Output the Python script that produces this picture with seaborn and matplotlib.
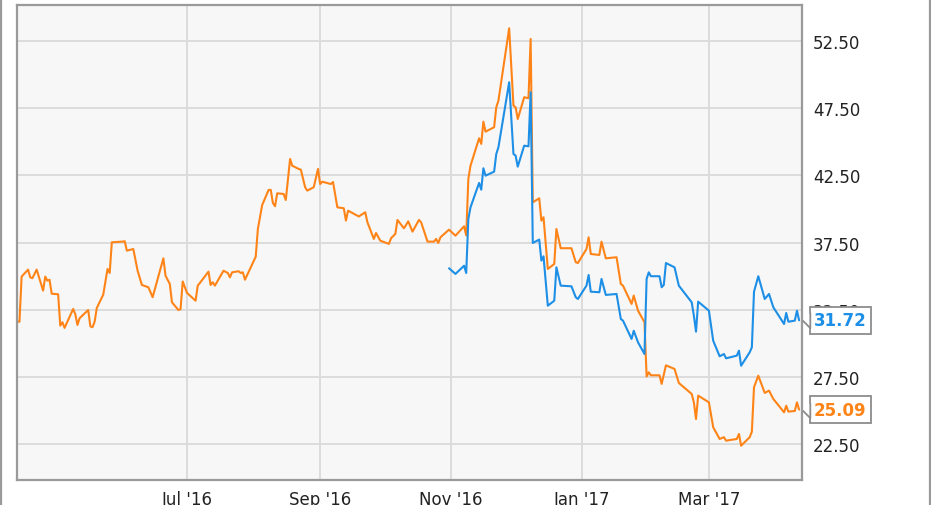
import matplotlib
matplotlib.use('Agg')
import matplotlib.pyplot as plt
import matplotlib.dates as mdates
import matplotlib.transforms as mtransforms
from matplotlib.lines import Line2D
import pandas as pd
import seaborn as sns

# ---------------- data ----------------
orange_dates = [
    '2016-04-13', '2016-04-14', '2016-04-15', '2016-04-18', '2016-04-19', '2016-04-20',
    '2016-04-22', '2016-04-25', '2016-04-26', '2016-04-27', '2016-04-28', '2016-04-29',
    '2016-05-02', '2016-05-03', '2016-05-04', '2016-05-05', '2016-05-09', '2016-05-10',
    '2016-05-11', '2016-05-12', '2016-05-16', '2016-05-17', '2016-05-18', '2016-05-19',
    '2016-05-20', '2016-05-23', '2016-05-25', '2016-05-26', '2016-05-27', '2016-06-01',
    '2016-06-02', '2016-06-03', '2016-06-06', '2016-06-08', '2016-06-10', '2016-06-13',
    '2016-06-15', '2016-06-20', '2016-06-21', '2016-06-23', '2016-06-24', '2016-06-27',
    '2016-06-28', '2016-06-29', '2016-07-01', '2016-07-05', '2016-07-06', '2016-07-07',
    '2016-07-11', '2016-07-12', '2016-07-13', '2016-07-14', '2016-07-18', '2016-07-20',
    '2016-07-21', '2016-07-22', '2016-07-25', '2016-07-26', '2016-07-27', '2016-07-28',
    '2016-08-02', '2016-08-03', '2016-08-05', '2016-08-08', '2016-08-09', '2016-08-10',
    '2016-08-11', '2016-08-12', '2016-08-15', '2016-08-16', '2016-08-18', '2016-08-19',
    '2016-08-22', '2016-08-23', '2016-08-25', '2016-08-26', '2016-08-29', '2016-08-31',
    '2016-09-01', '2016-09-02', '2016-09-06', '2016-09-07', '2016-09-09', '2016-09-12',
    '2016-09-13', '2016-09-14', '2016-09-19', '2016-09-22', '2016-09-23', '2016-09-26',
    '2016-09-27', '2016-09-29', '2016-10-03', '2016-10-04', '2016-10-06', '2016-10-07',
    '2016-10-10', '2016-10-11', '2016-10-12', '2016-10-14', '2016-10-17', '2016-10-18',
    '2016-10-21', '2016-10-24', '2016-10-25', '2016-10-26', '2016-10-27', '2016-10-31',
    '2016-11-03', '2016-11-07', '2016-11-08', '2016-11-09', '2016-11-10', '2016-11-14',
    '2016-11-15', '2016-11-16', '2016-11-17', '2016-11-21', '2016-11-22', '2016-11-23',
    '2016-11-28', '2016-11-30', '2016-12-01', '2016-12-02', '2016-12-05', '2016-12-07',
    '2016-12-08', '2016-12-09', '2016-12-12', '2016-12-13', '2016-12-14', '2016-12-16',
    '2016-12-19', '2016-12-20', '2016-12-22', '2016-12-27', '2016-12-29', '2016-12-30',
    '2017-01-03', '2017-01-04', '2017-01-05', '2017-01-09', '2017-01-10', '2017-01-12',
    '2017-01-17', '2017-01-19', '2017-01-20', '2017-01-24', '2017-01-25', '2017-01-27',
    '2017-01-30', '2017-01-31', '2017-02-01', '2017-02-02', '2017-02-06', '2017-02-07',
    '2017-02-09', '2017-02-13', '2017-02-15', '2017-02-21', '2017-02-22', '2017-02-23',
    '2017-02-24', '2017-03-01', '2017-03-03', '2017-03-06', '2017-03-08', '2017-03-09',
    '2017-03-14', '2017-03-15', '2017-03-16', '2017-03-20', '2017-03-21', '2017-03-22',
    '2017-03-24', '2017-03-27', '2017-03-29', '2017-03-31', '2017-04-05', '2017-04-06',
    '2017-04-07', '2017-04-10', '2017-04-11', '2017-04-12',
]
orange_values = [
    31.62, 31.62, 34.97, 35.49, 34.92, 34.85,
    35.49, 33.93, 34.97, 34.67, 34.74, 33.70,
    33.66, 31.33, 31.58, 31.16, 32.57, 32.17,
    31.38, 31.88, 32.49, 31.28, 31.21, 31.62,
    32.64, 33.63, 35.54, 35.24, 37.52, 37.57,
    37.60, 36.90, 37.02, 35.41, 34.35, 34.18,
    33.44, 36.33, 35.04, 34.42, 33.06, 32.49,
    32.55, 34.61, 33.76, 33.18, 34.30, 34.50,
    35.34, 34.35, 34.55, 34.30, 35.41, 35.24,
    34.92, 35.29, 35.37, 35.24, 35.29, 34.74,
    36.45, 38.51, 40.29, 41.41, 41.41, 40.44,
    40.20, 41.16, 41.11, 40.66, 43.71, 43.21,
    42.97, 42.92, 41.61, 41.36, 41.61, 42.97,
    41.85, 42.02, 41.85, 42.00, 40.12, 40.05,
    39.13, 39.87, 39.44, 39.75, 39.01, 37.77,
    38.21, 37.64, 37.40, 37.82, 38.14, 39.18,
    38.56, 38.81, 39.08, 38.31, 39.18, 39.01,
    37.57, 37.57, 37.77, 37.47, 37.89, 38.46,
    38.01, 38.71, 38.03, 42.23, 43.21, 45.25,
    44.83, 46.48, 45.74, 46.07, 47.55, 48.04,
    53.42, 47.67, 47.55, 46.68, 48.30, 48.22,
    52.63, 40.49, 40.79, 39.13, 39.38, 35.54,
    35.91, 38.51, 37.08, 37.08, 36.04, 35.98,
    37.02, 37.89, 36.65, 36.58, 37.57, 36.33,
    36.41, 34.42, 34.30, 32.94, 33.56, 32.44,
    31.58, 27.55, 27.86, 27.64, 27.64, 27.00,
    28.38, 28.11, 27.07, 26.25, 25.63, 24.39,
    26.13, 25.63, 23.78, 22.91, 23.04, 22.78,
    22.91, 23.28, 22.41, 23.04, 23.45, 26.75,
    27.61, 26.33, 26.50, 25.88, 24.89, 25.38,
    24.94, 24.99, 25.63, 25.09,
]

blue_dates = [
    '2016-10-31', '2016-11-03', '2016-11-07', '2016-11-08', '2016-11-09', '2016-11-10',
    '2016-11-14', '2016-11-15', '2016-11-16', '2016-11-17', '2016-11-21', '2016-11-22',
    '2016-11-23', '2016-11-28', '2016-11-30', '2016-12-01', '2016-12-02', '2016-12-05',
    '2016-12-07', '2016-12-08', '2016-12-09', '2016-12-12', '2016-12-13', '2016-12-14',
    '2016-12-16', '2016-12-19', '2016-12-20', '2016-12-22', '2016-12-27', '2016-12-29',
    '2016-12-30', '2017-01-03', '2017-01-04', '2017-01-05', '2017-01-09', '2017-01-10',
    '2017-01-12', '2017-01-17', '2017-01-19', '2017-01-20', '2017-01-24', '2017-01-25',
    '2017-01-27', '2017-01-30', '2017-01-31', '2017-02-01', '2017-02-02', '2017-02-06',
    '2017-02-07', '2017-02-08', '2017-02-09', '2017-02-13', '2017-02-15', '2017-02-21',
    '2017-02-22', '2017-02-23', '2017-02-24', '2017-03-01', '2017-03-03', '2017-03-06',
    '2017-03-08', '2017-03-09', '2017-03-14', '2017-03-15', '2017-03-16', '2017-03-20',
    '2017-03-21', '2017-03-22', '2017-03-24', '2017-03-27', '2017-03-29', '2017-03-31',
    '2017-04-05', '2017-04-06', '2017-04-07', '2017-04-10', '2017-04-11', '2017-04-12',
]
blue_values = [
    35.59, 35.17, 35.78, 35.24, 39.25, 40.12,
    41.93, 41.43, 43.02, 42.47, 42.77, 44.08,
    44.58, 49.41, 44.08, 43.96, 43.14, 44.70,
    44.65, 48.67, 37.47, 37.72, 36.16, 36.48,
    32.81, 33.18, 35.66, 34.30, 34.25, 33.44,
    33.31, 34.30, 35.09, 33.85, 33.81, 34.80,
    33.61, 33.68, 31.82, 31.70, 30.34, 30.95,
    30.09, 29.22, 34.80, 35.29, 35.00, 35.00,
    34.18, 34.35, 35.98, 35.66, 34.30, 33.06,
    32.07, 30.88, 33.11, 32.44, 30.21, 29.05,
    29.22, 28.90, 29.10, 29.47, 28.35, 29.35,
    29.72, 33.85, 35.00, 33.31, 33.68, 32.69,
    31.45, 32.27, 31.62, 31.70, 32.44, 31.72,
]

series_names = ['Orange series', 'Blue series']
series_colors = ['#ff8418', '#1e8fe6']
last_labels = ['25.09', '31.72']

y_ticks = [22.5, 27.5, 32.5, 37.5, 42.5, 47.5, 52.5]
x_tick_dates = ['2016-07-01', '2016-09-01', '2016-11-01', '2017-01-01', '2017-03-01']
x_tick_labels = ["Jul '16", "Sep '16", "Nov '16", "Jan '17", "Mar '17"]

# ---------------- build table ----------------
df = pd.concat([
    pd.DataFrame({'date': pd.to_datetime(orange_dates), 'value': orange_values,
                  'series': series_names[0]}),
    pd.DataFrame({'date': pd.to_datetime(blue_dates), 'value': blue_values,
                  'series': series_names[1]}),
], ignore_index=True)

sns.set_style('white')
plt.rcParams['font.family'] = ['DejaVu Sans']

fig = plt.figure(figsize=(9.31, 5.06), dpi=100)
fig.patch.set_facecolor('white')
ax = fig.add_axes([16.7 / 931, 25 / 506, 785 / 931, 475 / 506])
ax.set_facecolor('#f7f7f7')

sns.lineplot(data=df, x='date', y='value', hue='series',
             hue_order=series_names, palette=series_colors,
             linewidth=1.5, estimator=None, sort=False, legend=False, ax=ax)

ax.set_xlim(pd.Timestamp('2016-04-12 17:00'), pd.Timestamp('2017-04-13 05:00'))
ax.set_ylim(19.86, 55.15)

ax.set_xticks(pd.to_datetime(x_tick_dates))
ax.set_xticklabels(x_tick_labels)
ax.set_yticks(y_ticks)
ax.set_yticklabels([f'{v:.2f}' for v in y_ticks])
ax.yaxis.tick_right()
ax.set_xlabel('')
ax.set_ylabel('')

ax.grid(True, color='#dcdcdc', linewidth=1.4)
ax.set_axisbelow(True)
ax.tick_params(axis='x', length=0, pad=7, labelsize=12, colors='#222222')
ax.tick_params(axis='y', length=0, pad=8, labelsize=12, colors='#222222')

for sp in ax.spines.values():
    sp.set_visible(True)
    sp.set_color('#9a9a9a')
    sp.set_linewidth(1.6)

# figure side frame lines
fig.add_artist(Line2D([0.8 / 931, 0.8 / 931], [0, 1], transform=fig.transFigure,
                      color='#9a9a9a', linewidth=1.6))
fig.add_artist(Line2D([929.5 / 931, 929.5 / 931], [0, 1], transform=fig.transFigure,
                      color='#9a9a9a', linewidth=1.6))

# last-value tags
trans = mtransforms.blended_transform_factory(ax.transAxes, ax.transData)
last_vals = [orange_values[-1], blue_values[-1]]
notch = [(-0.5, 0.0), (0.5, -1.0), (0.5, 1.0)]
for val, lab, col in zip(last_vals, last_labels, series_colors):
    ax.text((814 - 16.7) / 785, val, lab, transform=trans, ha='left', va='center',
            fontsize=12, fontweight='bold', color=col, zorder=10, clip_on=False,
            bbox=dict(boxstyle='square,pad=0.25', facecolor='white',
                      edgecolor='#8c8c8c', linewidth=1.3))
    ax.plot([(806.5 - 16.7) / 785], [val], transform=trans, marker=notch,
            markersize=11, markerfacecolor='white', markeredgecolor='#8c8c8c',
            markeredgewidth=1.3, clip_on=False, zorder=11)

fig.savefig('out.png', dpi=100, facecolor='white')
